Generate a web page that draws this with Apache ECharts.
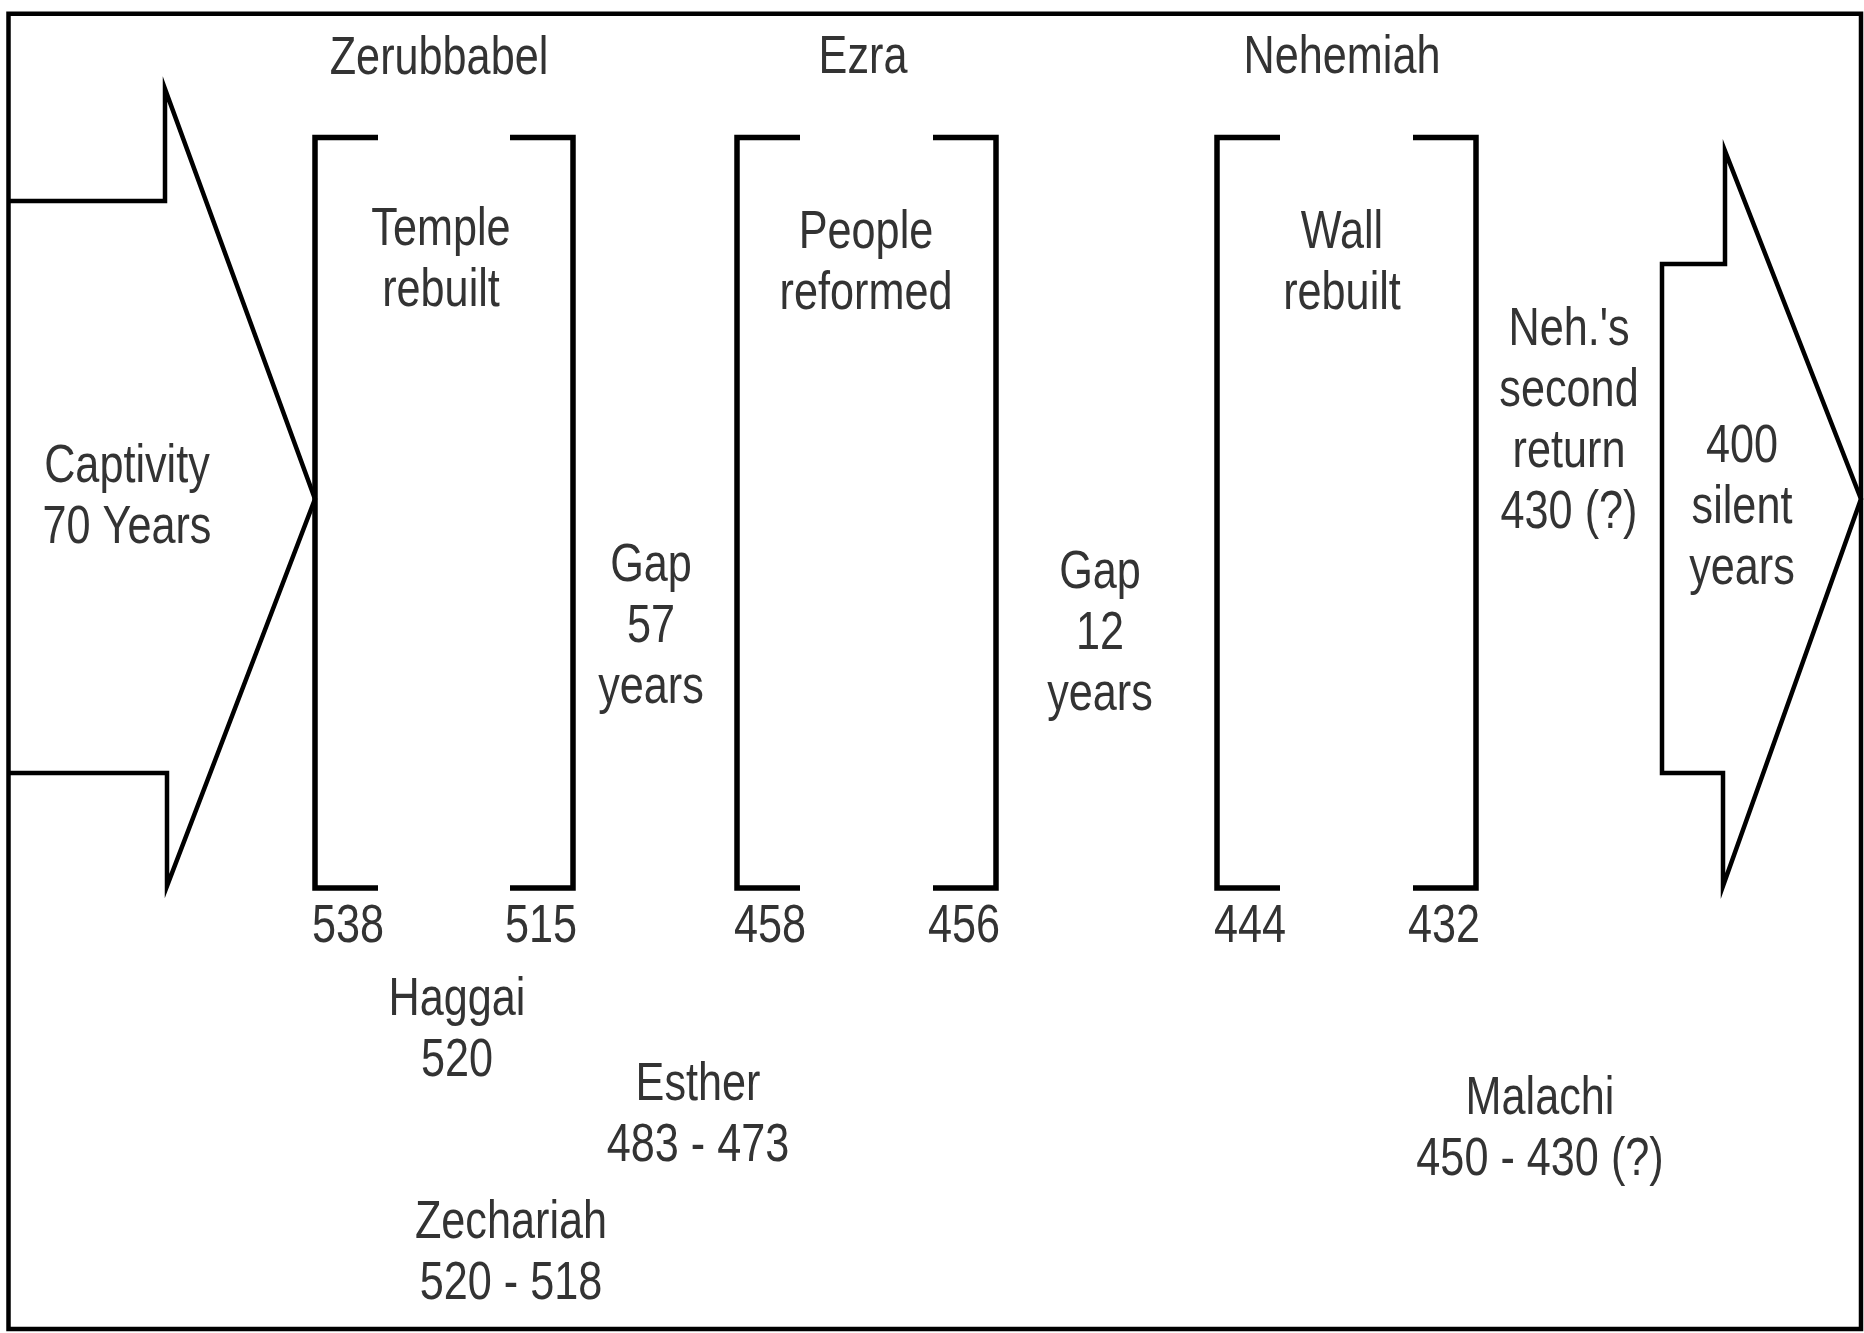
<!DOCTYPE html>
<html>
<head>
<meta charset="utf-8">
<script src="https://cdn.jsdelivr.net/npm/echarts@6/dist/echarts.min.js"></script>
<style>
  html, body { margin: 0; padding: 0; background: #fff; }
  #chart { width: 1864px; height: 1333px; }
</style>
</head>
<body>
<div id="chart"></div>
<script>
// ---------- DATA ----------
const leaders      = ['Zerubbabel', 'Ezra', 'Nehemiah'];
const works        = ['Temple\nrebuilt', 'People\nreformed', 'Wall\nrebuilt'];
const startYears   = [538, 458, 444];
const endYears     = [515, 456, 432];
const gapYears     = [57, 12];
const captivityYears = 70;
const silentYears    = 400;
const secondReturn   = '430 (?)';
const prophetNames = ['Haggai', 'Zechariah', 'Esther', 'Malachi'];
const prophetDates = ['520', '520 - 518', '483 - 473', '450 - 430 (?)'];

// ---------- LAYOUT (diagram units = pixels of the reference) ----------
const W = 1864, H = 1333;
const bracketLeft  = [315, 737, 1217];
const bracketRight = [573, 996, 1476];
const bracketTop = 137.5, bracketBottom = 888, arm = 63;
const leaderPos = [[439, 59], [863, 58], [1342, 58]];
const workPos   = [[441, 230], [866, 233], [1342, 233]];
const gapPos    = [[651, 566], [1100, 573]];
const prophetPos = [[457, 1000], [511, 1223], [698, 1085], [1540, 1099]];
const yearLabelY = 927;
const captivityPos = [127, 467];
const returnPos = [1569, 330];
const silentPos = [1742, 447];

const INK = '#000';
const TXT = '#333';
const FONT = '54px "Liberation Sans", Arial, sans-serif';
const SX = 0.8;
const LH = 61;

// (x, y) = centre of the first line of text
function textEl(api, x, y, text, align) {
  const lines = String(text).split('\n').length;
  const p = api.coord([x, y + (lines - 1) * LH / 2]);
  return {
    type: 'text', x: p[0], y: p[1], scaleX: SX, scaleY: 1,
    style: {
      text: text, x: 0, y: 0, fill: TXT, font: FONT,
      align: align || 'center', textAlign: align || 'center',
      verticalAlign: 'middle', textVerticalAlign: 'middle',
      lineHeight: LH
    }
  };
}
function lineEl(api, pts, closed, width) {
  return {
    type: closed ? 'polygon' : 'polyline',
    shape: { points: pts.map(q => api.coord(q)) },
    style: { stroke: INK, fill: closed ? 'none' : null, lineWidth: width || 4.5, lineJoin: 'miter', lineCap: 'butt' }
  };
}

const chart = echarts.init(document.getElementById('chart'), null, { renderer: 'canvas' });

const option = {
  backgroundColor: '#fff',
  animation: false,
  grid: { left: 0, right: 0, top: 0, bottom: 0 },
  xAxis: { type: 'value', min: 0, max: W, show: false },
  yAxis: { type: 'value', min: 0, max: H, inverse: true, show: false },
  series: [
    {
      // frame + arrows
      type: 'custom', clip: false, silent: true,
      data: [[0]],
      renderItem: function (params, api) {
        return {
          type: 'group',
          children: [
            lineEl(api, [[8.5, 13.7], [1861, 13.7], [1861, 1329], [8.5, 1329]], true, 4.5),
            lineEl(api, [[8.5, 201], [165, 201], [165, 89], [315, 499], [167, 886], [167, 773], [8.5, 773]], false, 4.5),
            lineEl(api, [[1662, 264], [1725, 264], [1725, 151], [1861, 499], [1723, 886], [1723, 773], [1662, 773]], true, 4.5),
            textEl(api, captivityPos[0], captivityPos[1], 'Captivity\n' + captivityYears + ' Years'),
            textEl(api, silentPos[0], silentPos[1], silentYears + '\nsilent\nyears'),
            textEl(api, returnPos[0], returnPos[1], "Neh.'s\nsecond\nreturn\n" + secondReturn)
          ]
        };
      }
    },
    {
      // brackets for each leader
      type: 'custom', clip: false, silent: true,
      data: startYears.map((s, i) => [i, s, endYears[i]]),
      renderItem: function (params, api) {
        const i = api.value(0);
        const x0 = bracketLeft[i], x1 = bracketRight[i];
        return {
          type: 'group',
          children: [
            lineEl(api, [[x0 + arm, bracketTop], [x0, bracketTop], [x0, bracketBottom], [x0 + arm, bracketBottom]], false, 5.5),
            lineEl(api, [[x1 - arm, bracketTop], [x1, bracketTop], [x1, bracketBottom], [x1 - arm, bracketBottom]], false, 5.5),
            textEl(api, x0 - 3, yearLabelY, String(api.value(1)), 'left'),
            textEl(api, x1 + 4, yearLabelY, String(api.value(2)), 'right'),
            textEl(api, leaderPos[i][0], leaderPos[i][1], leaders[i]),
            textEl(api, workPos[i][0], workPos[i][1], works[i])
          ]
        };
      }
    },
    {
      // gaps
      type: 'custom', clip: false, silent: true,
      data: gapYears.map((g, i) => [i, g]),
      renderItem: function (params, api) {
        const i = api.value(0);
        return textEl(api, gapPos[i][0], gapPos[i][1], 'Gap\n' + api.value(1) + '\nyears');
      }
    },
    {
      // prophets / books
      type: 'custom', clip: false, silent: true,
      data: prophetNames.map((n, i) => [i]),
      renderItem: function (params, api) {
        const i = api.value(0);
        return textEl(api, prophetPos[i][0], prophetPos[i][1], prophetNames[i] + '\n' + prophetDates[i]);
      }
    }
  ]
};
chart.setOption(option);
</script>
</body>
</html>
